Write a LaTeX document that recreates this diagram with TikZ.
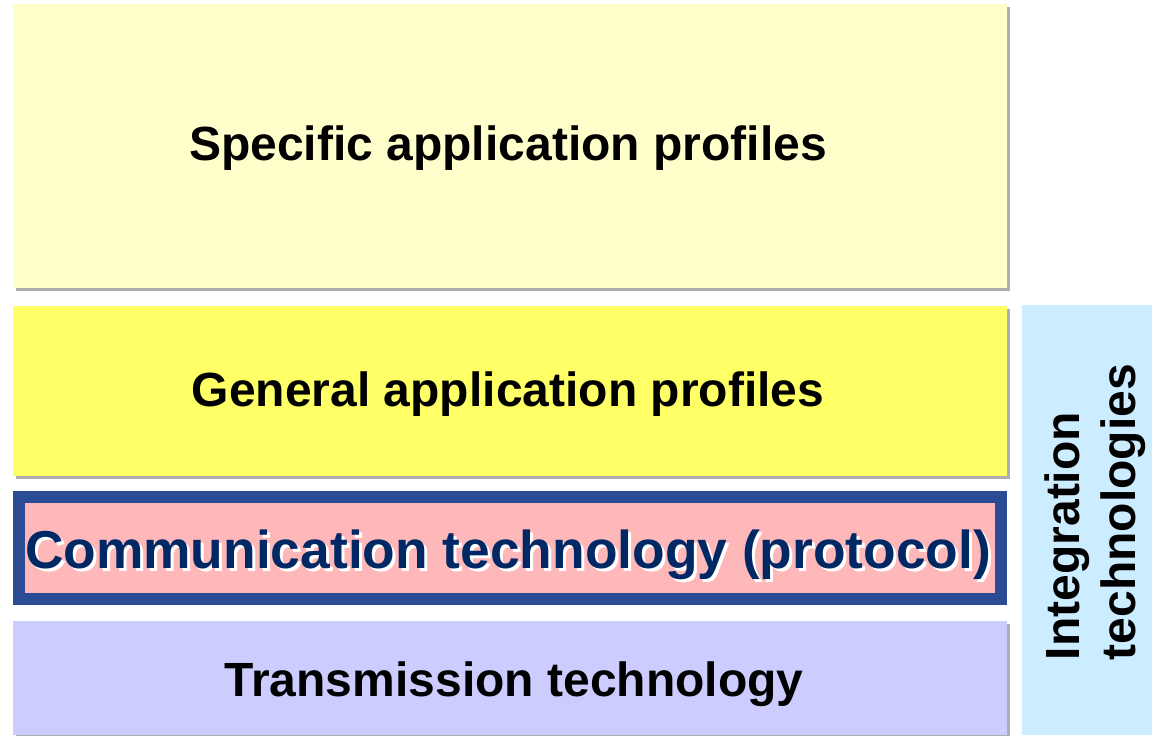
\documentclass[tikz,border=0pt]{standalone}
\usepackage{fontspec}
\setmainfont{Liberation Sans}
\usetikzlibrary{fit,shadows}
\definecolor{specificfill}{RGB}{255,255,204}
\definecolor{generalfill}{RGB}{255,255,102}
\definecolor{commfill}{RGB}{255,184,186}
\definecolor{commframe}{RGB}{43,76,148}
\definecolor{commtext}{RGB}{0,40,100}
\definecolor{transfill}{RGB}{204,204,255}
\definecolor{integfill}{RGB}{204,236,255}
\tikzset{
  layer/.style={draw=none, inner sep=0pt, outer sep=0pt,
    drop shadow={shadow xshift=2.5pt, shadow yshift=-2.5pt, opacity=.45, fill=black!70}},
  layertext/.style={font=\bfseries\fontsize{36}{42}\selectfont, text=black},
  commfont/.style={font=\bfseries\fontsize{40}{46}\selectfont},
}
\begin{document}
\begin{tikzpicture}[x=0.75pt, y=-0.75pt]
  \useasboundingbox (0,0) rectangle (1152,735);

  % layer stack
  \node[layer, fill=specificfill, fit={(13,4) (1007,288)}] (specific) {};
  \node[layertext] (specifictext) at (508,148) {Specific application profiles};

  \node[layer, fill=generalfill, fit={(13,306) (1007,476)}] (general) {};
  \node[layertext] (generaltext) at (508,394) {General application profiles};

  \node[layer, fill=commfill, draw=commframe, line width=9pt,
        fit={(19,497) (1001,599)}] (comm) {};
  \node[commfont, text=white] (commshadow) at (511,558)
       {Communication technology (protocol)};
  \node[commfont, text=commtext] (commtext) at (508,555)
       {Communication technology (protocol)};

  \node[layer, fill=transfill, fit={(13,621) (1007,735)}] (trans) {};
  \node[layertext] (transtext) at (514,684) {Transmission technology};

  % side column
  \node[inner sep=0pt, fill=integfill, fit={(1022,305) (1152,735)}] (integ) {};
  \node[rotate=90, align=left, font=\bfseries\fontsize{36}{42}\selectfont]
       (integtext) at (1095,512) {Integration\\technologies};
\end{tikzpicture}
\end{document}
